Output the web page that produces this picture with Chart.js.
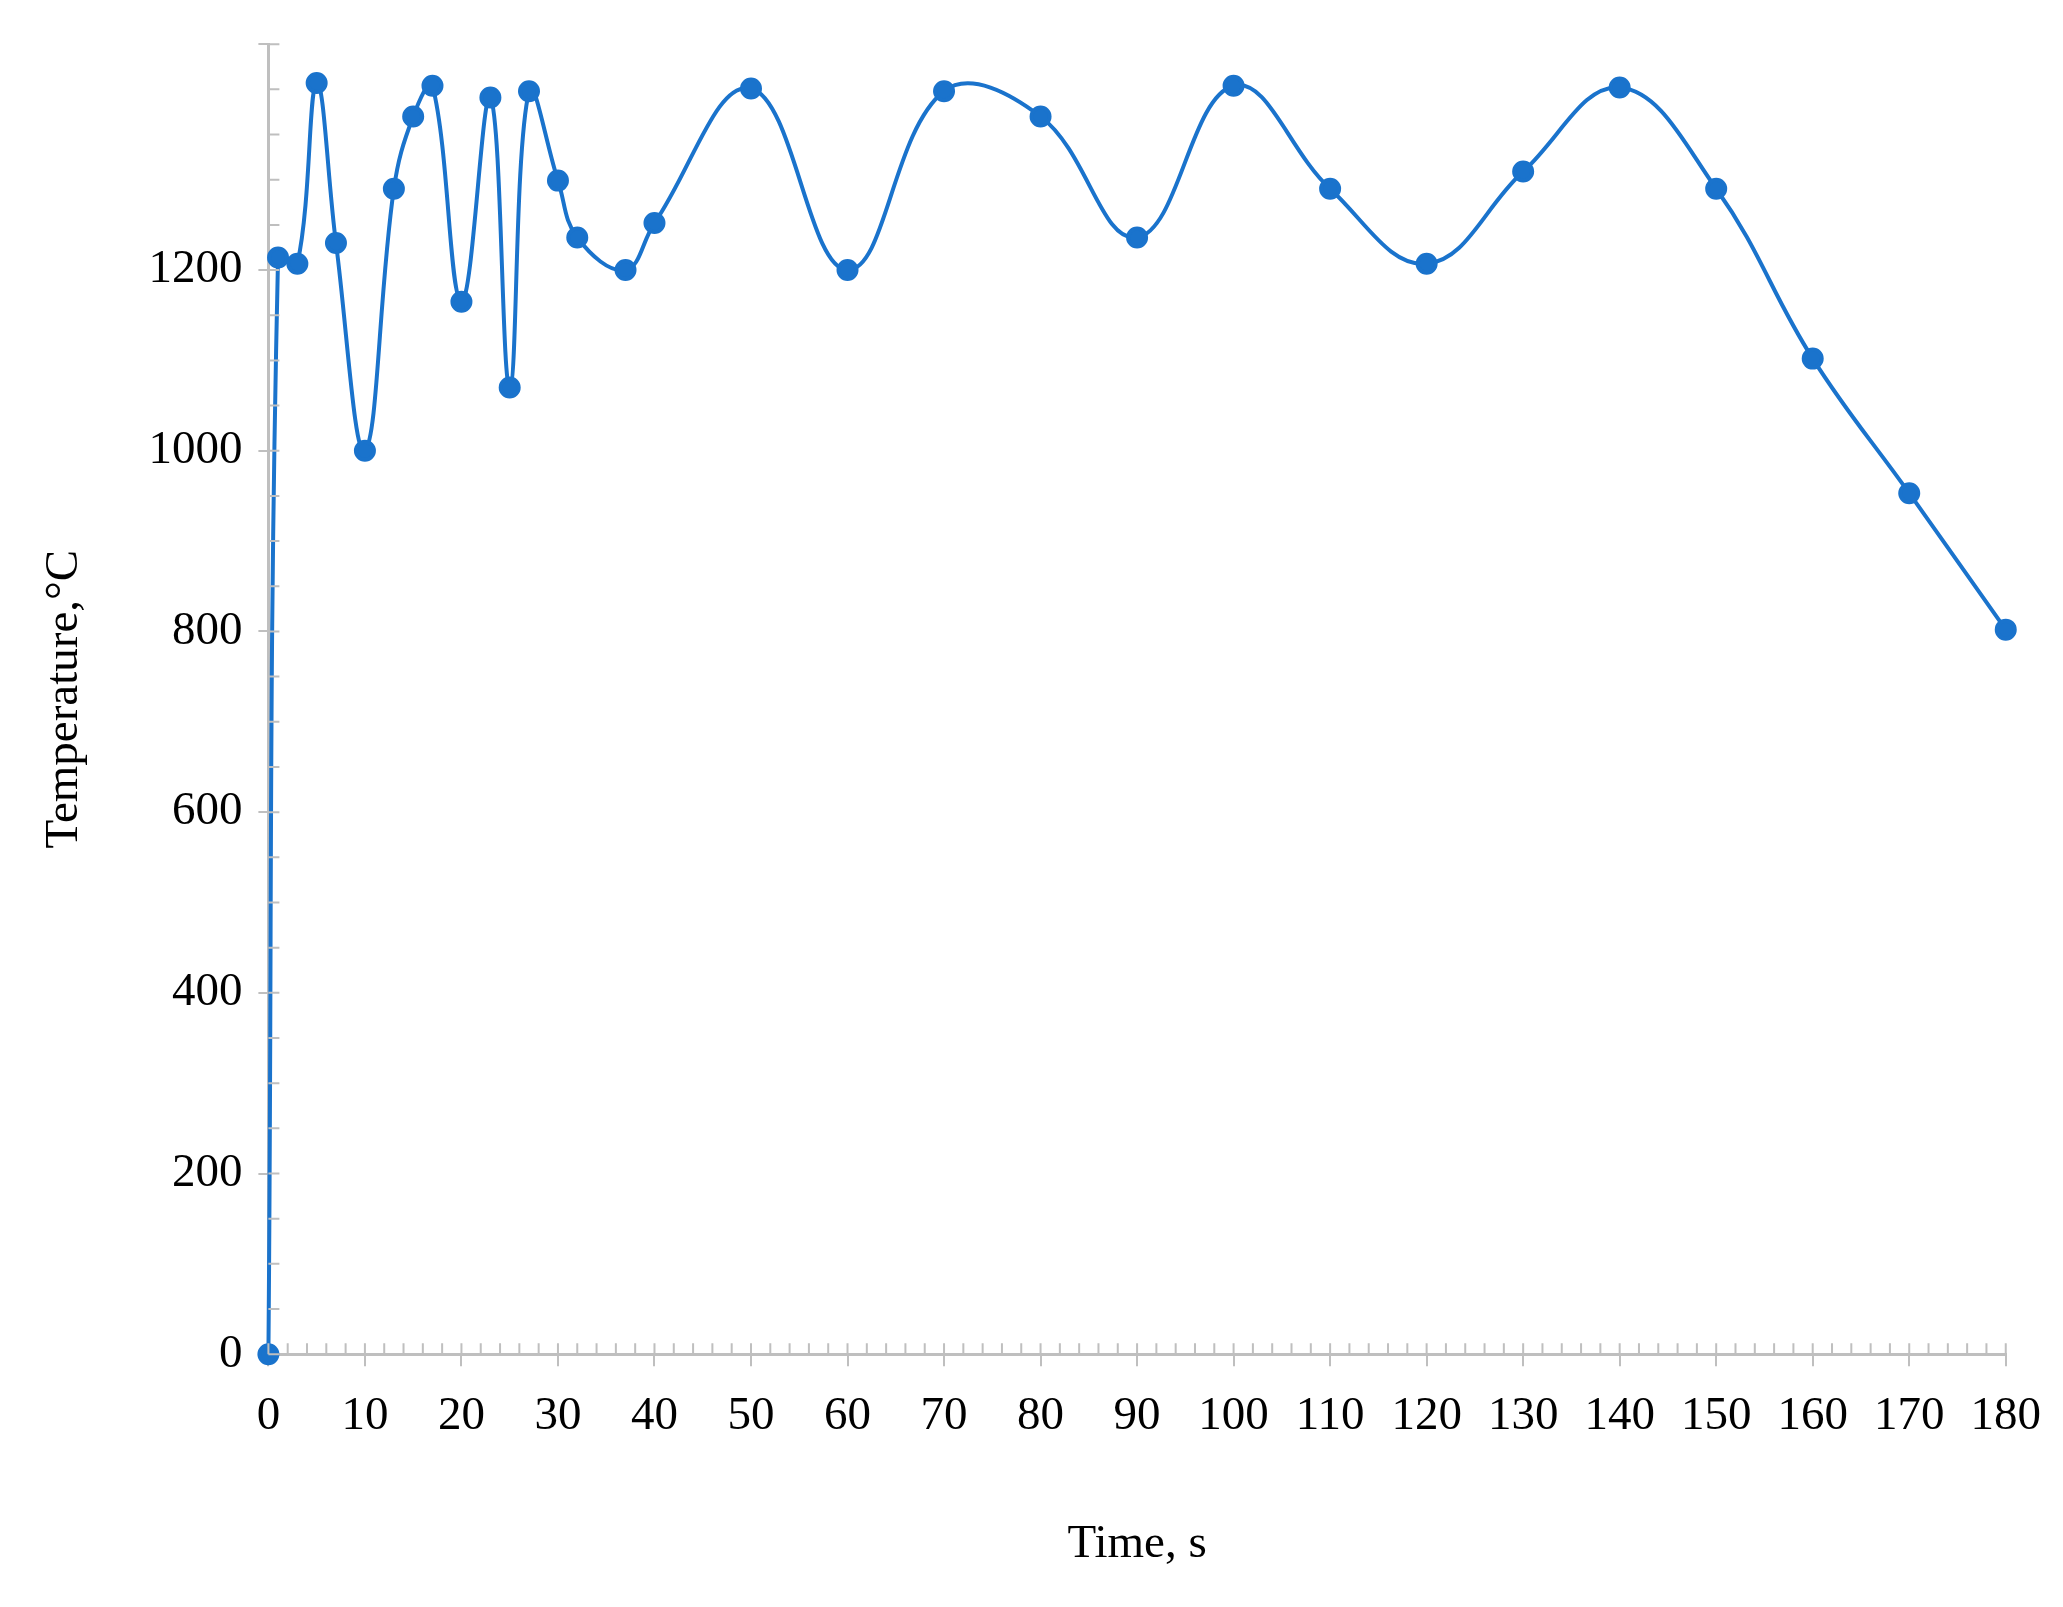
<!DOCTYPE html>
<html>
<head>
<meta charset="utf-8">
<script src="https://cdn.jsdelivr.net/npm/chart.js@4"></script>
<style>
  html, body { margin: 0; padding: 0; background: #fff; }
  #wrap { width: 2063px; height: 1607px; }
</style>
</head>
<body>
<div id="wrap"><canvas id="temp-graph"></canvas></div>
<script>
// time (s) and measured temperature (°C)
const times = [0, 1, 3, 5, 7, 10, 13, 15, 17, 20, 23, 25, 27, 30, 32, 37, 40, 50, 60, 70, 80, 90, 100, 110, 120, 130, 140, 150, 160, 170, 180]
const temps = [0, 1214, 1207, 1407, 1230, 1000, 1290, 1370, 1404, 1165, 1391, 1070, 1398, 1299, 1236, 1200, 1252, 1401, 1200, 1398, 1370, 1236, 1404, 1290, 1207, 1309, 1402, 1290, 1102, 953, 802]

const blue = '#1A73CC'
const axisGray = '#BFBFBF'
const font = { family: 'Liberation Serif', size: 47 }

// small tick marks inside the plot area
const minorTicks = {
  id: 'minorTicks',
  afterDraw(chart) {
    const { ctx, scales: { x, y } } = chart
    ctx.save()
    ctx.strokeStyle = axisGray
    ctx.lineWidth = 2
    ctx.beginPath()
    for (let v = 0; v <= 180; v += 2) {
      const px = x.getPixelForValue(v)
      ctx.moveTo(px, y.bottom)
      ctx.lineTo(px, y.bottom - 11)
    }
    for (let v = 0; v <= 1450; v += 50) {
      const py = y.getPixelForValue(v)
      ctx.moveTo(x.left, py)
      ctx.lineTo(x.left + 11, py)
    }
    ctx.stroke()
    ctx.restore()
  }
}

new Chart(document.getElementById('temp-graph'), {
  type: 'line',
  data: {
    datasets: [{
      data: times.map((t, i) => ({ x: t, y: temps[i] })),
      borderColor: blue,
      backgroundColor: blue,
      borderWidth: 4,
      pointRadius: 9,
      pointHoverRadius: 9,
      tension: 0.4,
      clip: false
    }]
  },
  options: {
    responsive: true,
    maintainAspectRatio: false,
    animation: false,
    layout: { padding: { left: 32, right: 45, top: 38, bottom: 30 } },
    plugins: { legend: { display: false }, tooltip: { enabled: false } },
    scales: {
      x: {
        type: 'linear',
        min: 0,
        max: 180,
        ticks: { stepSize: 10, color: '#000', font, padding: 22, autoSkip: false, maxRotation: 0 },
        grid: { drawOnChartArea: false, color: axisGray, lineWidth: 2, tickLength: 12 },
        border: { color: axisGray, width: 3 },
        title: { display: true, text: 'Time, s', color: '#000', font, padding: { top: 50 } }
      },
      y: {
        min: 0,
        max: 1450,
        ticks: {
          stepSize: 200, color: '#000', font, padding: 16, autoSkip: false,
          callback: v => (v % 200 === 0 ? String(v) : '')
        },
        grid: { drawOnChartArea: false, color: axisGray, lineWidth: 2, tickLength: 10 },
        border: { color: axisGray, width: 3 },
        title: { display: true, text: 'Temperature,°C', color: '#000', font, padding: { bottom: 40 } }
      }
    }
  },
  plugins: [minorTicks]
})
</script>
</body>
</html>
